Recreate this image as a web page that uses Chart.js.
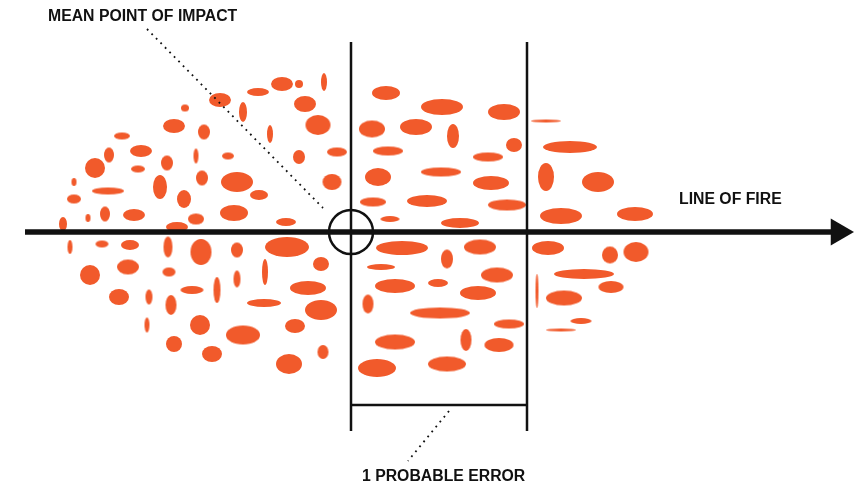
<!DOCTYPE html>
<html><head><meta charset="utf-8">
<script src="https://cdn.jsdelivr.net/npm/chart.js@4.4.0/dist/chart.umd.min.js"></script>
<style>html,body{margin:0;padding:0;background:#fff}canvas{display:block}</style>
</head><body>
<canvas id="mpi-chart" width="854" height="485"></canvas>
<script>
// ===== impact pattern: ellipse centres (x,y) and half axes (rx,ry) =====
const ELL_X=[220,258,243,185,174,204,122,141,109,167,196,228,95,138,74,108,160,202,237,259,184,74,105,88,134,196,234,177,63,
  282,299,324,305,318,270,299,337,332,286,
  386,442,372,416,453,388,378,441,373,427,390,460,
  504,514,488,491,507,546,570,546,598,561,635,
  70,102,130,168,201,237,90,128,169,237,119,149,171,192,217,264,147,200,243,174,212,
  287,321,265,308,321,295,323,289,
  402,447,381,395,438,368,440,395,377,447,
  480,497,478,509,466,499,548,610,636,584,537,611,564,581,561];
const ELL_Y=[100,92,112,108,126,132,136,151,155,163,156,156,168,169,182,191,187,178,182,195,199,199,214,218,215,219,213,227,224,
  84,84,82,104,125,134,157,152,182,222,
  93,107,129,127,136,151,177,172,202,201,219,223,
  112,145,157,183,205,121,147,177,182,216,214,
  247,244,245,247,252,250,275,267,272,279,297,297,305,290,290,303,325,325,335,344,354,
  247,264,272,288,310,326,352,364,
  248,259,267,286,283,304,313,342,368,364,
  247,275,293,324,340,345,248,255,252,274,291,287,298,321,330];
const ELL_RX=[11,11,4,4,11,6,8,11,5,6,2.5,6,10,7,2.5,16,7,6,16,9,7,7,5,2.5,11,8,14,11,4,
  11,4,3,11,12.5,3,6,10,9.5,10,
  14,21,13,16,6,15,13,20,13,20,9.5,19,
  16,8,15,18,19,15,27,8,16,21,18,
  2.5,6.5,9,4.5,10.5,6,10,11,6.5,3.5,10,3.5,5.5,11.5,3.5,17,2.5,10,17,8,10,
  22,8,3,18,16,10,5.5,13,
  26,6,14,20,10,5.5,30,20,19,19,
  16,16,18,15,5.5,14.5,16,8,12.5,30,1.5,12.5,18,10.5,15];
const ELL_RY=[7,4,10,3.5,7,7.5,3.5,6,7.5,7.5,7.5,3.5,10,3.5,4,3.5,12,7.5,10,5,9,4.5,7.5,4,6,5.5,8,5,7,
  7,4,9,8,10,9,7,4.5,8,4,
  7,8,8.5,8,12,4.5,9,4.5,4.5,6,3,5,
  8,7,4.5,7,5.5,1.5,6,14,10,8,7,
  7,3.5,5,10.5,13,7.5,10,7.5,4.5,8.5,8,7.5,10,4,13,4,7.5,10,9.5,8,8,
  10,7,13,7,10,7,7,10,
  7,9.5,3,7,4,9.5,5.5,7.5,9,7.5,
  7.5,7.5,7,4.5,11,7,7,8.5,10,5,17,6,7.5,3,1.5];

// ===== guide lines and labels =====
const FIRE_LINE=[{x:25,y:232},{x:832,y:232}];
const ARROW_TIP=[{x:838.5,y:232}];
const PE_LEFT=[{x:351,y:42},{x:351,y:431}];
const PE_RIGHT=[{x:527,y:42},{x:527,y:431}];
const PE_BRACKET=[{x:351,y:405},{x:527,y:405}];
const MPI=[{x:351,y:232}];
const MPI_LEADER=[{x:147,y:29},{x:323,y:208}];
const PE_LEADER=[{x:449,y:411},{x:408,y:461}];
const LABELS=['MEAN POINT OF IMPACT','LINE OF FIRE','1 PROBABLE ERROR'];
const LABEL_AT=[{x:48,y:21},{x:679,y:204},{x:362,y:481}];

const ORANGE='#F15A2B',INK='#111111';
const ellCache={};
function ellipseImg(i){
  if(ellCache[i])return ellCache[i];
  const rx=ELL_RX[i],ry=ELL_RY[i],c=document.createElement('canvas');
  c.width=Math.ceil(rx*2)+2;c.height=Math.ceil(ry*2)+2;
  const g=c.getContext('2d');g.fillStyle=ORANGE;g.beginPath();
  g.ellipse(c.width/2,c.height/2,rx,ry,0,0,Math.PI*2);g.fill();
  return ellCache[i]=c;
}

const labelPlugin={id:'labels',afterDatasetsDraw(chart){
  const {ctx,scales:{x,y}}=chart;ctx.save();
  ctx.fillStyle=INK;ctx.font='bold 15.8px "Liberation Sans",Arial,sans-serif';ctx.textBaseline='alphabetic';
  LABELS.forEach((t,i)=>ctx.fillText(t,x.getPixelForValue(LABEL_AT[i].x),y.getPixelForValue(LABEL_AT[i].y)));
  ctx.restore();
}};

const seg=(data,w,dash)=>({type:'line',data,showLine:true,borderColor:INK,borderWidth:w,pointRadius:0,borderDash:dash||[],fill:false,clip:false,order:1});

new Chart(document.getElementById('mpi-chart'),{
  type:'scatter',
  data:{datasets:[
    seg(FIRE_LINE,5.5),
    {data:ARROW_TIP,pointStyle:'triangle',pointRotation:90,pointRadius:15.5,backgroundColor:INK,borderWidth:0,clip:false,order:1},
    seg(PE_LEFT,2.5),seg(PE_RIGHT,2.5),seg(PE_BRACKET,2.5),
    {data:MPI,pointStyle:'circle',pointRadius:22,backgroundColor:'rgba(0,0,0,0)',borderColor:INK,borderWidth:2.5,clip:false,order:1},
    seg(MPI_LEADER,1.8,[1.8,4.6]),seg(PE_LEADER,1.8,[1.8,4.6]),
    {data:ELL_X.map((v,i)=>({x:v,y:ELL_Y[i]})),pointStyle:c=>ellipseImg(c.dataIndex),pointRadius:1,clip:false,order:5}
  ]},
  options:{responsive:false,animation:false,events:[],layout:{padding:0,autoPadding:false},
    plugins:{legend:{display:false},tooltip:{enabled:false}},
    scales:{x:{type:'linear',min:0,max:854,display:false},y:{type:'linear',min:0,max:485,reverse:true,display:false}}
  },
  plugins:[labelPlugin]
});
</script>
</body></html>
